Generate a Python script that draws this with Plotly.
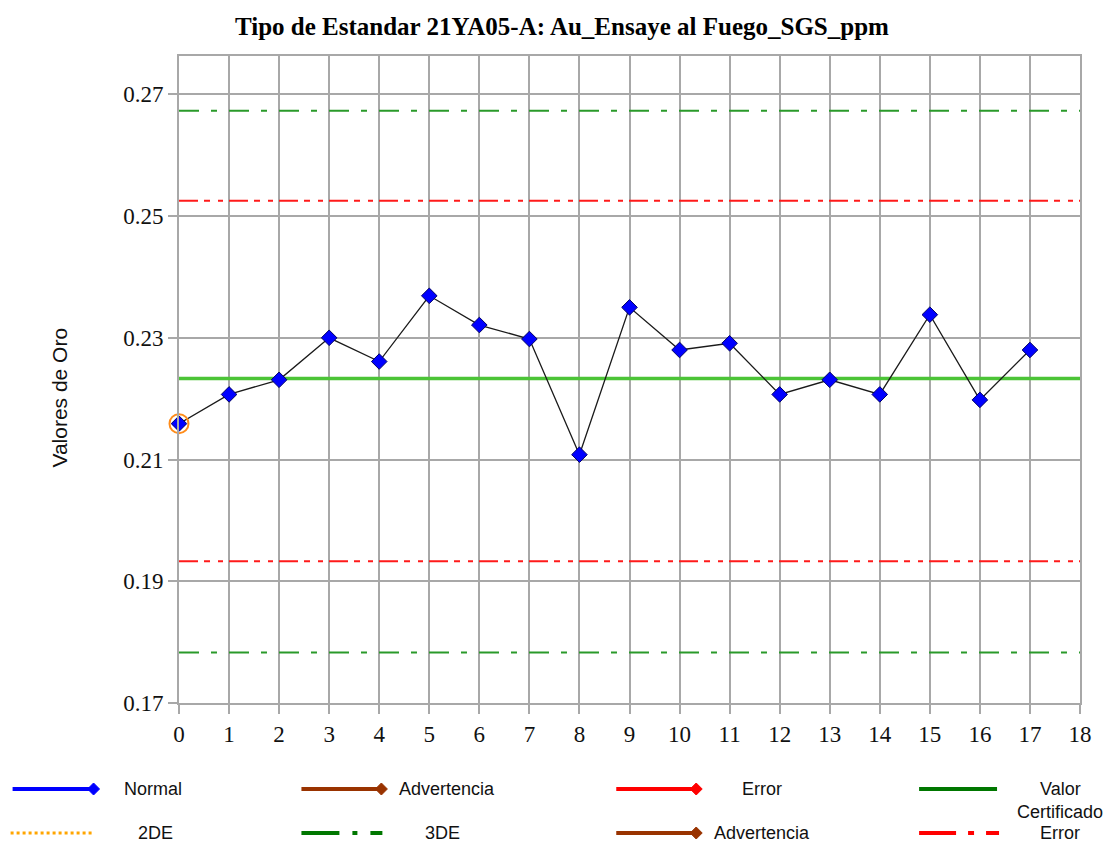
import plotly.graph_objects as go

# Sample sequence and assay results (Au, ppm)
muestras = list(range(18))
valores = [0.2159, 0.2207, 0.2231, 0.2300, 0.2261, 0.2369, 0.2321, 0.2298,
           0.2108, 0.2350, 0.2280, 0.2291, 0.2207, 0.2231, 0.2207, 0.2338,
           0.2198, 0.2280]
marcados = [0]  # flagged samples

# Control limits
valor_certificado = 0.2233
error_sup, error_inf = 0.2525, 0.1933
de3_sup, de3_inf = 0.2673, 0.1783

y_ticks = [0.17, 0.19, 0.21, 0.23, 0.25, 0.27]
x_ticks = list(range(19))

W, H = 1103, 844
L, R, T, B = 178.5, 1080, 56, 703
GRID = "#a8a8a8"


def px(x):
    return (x - L) / (R - L)


def py(y):
    return (B - y) / (B - T)


fig = go.Figure()

# Limit lines across the full axis width
def hline(yv, color, width, dash):
    fig.add_trace(go.Scatter(x=[0, 18], y=[yv, yv], mode="lines",
                             line=dict(color=color, width=width, dash=dash),
                             hoverinfo="skip", showlegend=False))

hline(de3_sup, "#2a9a2a", 2, "20px,12px,6px,12px")
hline(de3_inf, "#2a9a2a", 2, "20px,12px,6px,12px")
hline(error_sup, "#ff1a1a", 2, "19px,6px,6px,8px,5px,6px")
hline(error_inf, "#ff1a1a", 2, "19px,6px,6px,8px,5px,6px")
hline(valor_certificado, "#4cc437", 3.5, "solid")

# Assay series
fig.add_trace(go.Scatter(x=muestras, y=valores, mode="lines+markers",
                         line=dict(color="#1a1a1a", width=1.3),
                         marker=dict(symbol="diamond", size=12, color="#0000ff",
                                     line=dict(color="#000066", width=1)),
                         cliponaxis=False, showlegend=False))

# Flagged samples
fig.add_trace(go.Scatter(x=[muestras[i] for i in marcados],
                         y=[valores[i] for i in marcados], mode="markers",
                         marker=dict(symbol="circle-open", size=19, color="#ff8c1a",
                                     line=dict(width=2)),
                         cliponaxis=False, showlegend=False))

shapes = []
annotations = []


def leg_line(x0, x1, yy, color, width, dash="solid"):
    shapes.append(dict(type="line", xref="paper", yref="paper",
                       x0=px(x0), x1=px(x1), y0=py(yy), y1=py(yy),
                       line=dict(color=color, width=width, dash=dash)))


def leg_diamond(xc, yc, color, r=6):
    path = "M {} {} L {} {} L {} {} L {} {} Z".format(
        px(xc - r), py(yc), px(xc), py(yc - r), px(xc + r), py(yc), px(xc), py(yc + r))
    shapes.append(dict(type="path", xref="paper", yref="paper", path=path,
                       fillcolor=color, line=dict(color=color, width=1)))


def leg_text(xc, yc, text, anchor="center"):
    annotations.append(dict(xref="paper", yref="paper", x=px(xc), y=py(yc),
                            text=text, showarrow=False, xanchor=anchor,
                            yanchor="middle",
                            font=dict(family="Liberation Sans, Arial", size=18,
                                      color="#111111")))


# Row 1
leg_line(12, 92, 789, "#0000ff", 4)
leg_diamond(93, 789, "#0000ff")
leg_text(121, 789, "Normal", "left")
leg_line(301, 380, 789, "#993300", 4)
leg_diamond(381, 789, "#993300")
leg_text(397, 789, "Advertencia", "left")
leg_line(616, 695, 789, "#ff0000", 4)
leg_diamond(696, 789, "#ff0000")
leg_text(762, 789, "Error")
leg_line(919, 997, 789, "#007700", 4)
leg_text(1060, 789, "Valor")
leg_text(1060, 812, "Certificado")

# Row 2
leg_line(10, 94, 833, "#ffa500", 3, "dot")
leg_text(155, 833, "2DE")
leg_line(301, 339, 833, "#007700", 4)
leg_line(352, 357, 833, "#007700", 4)
leg_line(370, 382, 833, "#007700", 4)
leg_text(442, 833, "3DE")
leg_line(616, 695, 833, "#993300", 4)
leg_diamond(696, 833, "#993300")
leg_text(762, 833, "Advertencia")
leg_line(919, 956, 833, "#ff0000", 4)
leg_line(968, 974, 833, "#ff0000", 4)
leg_line(986, 999, 833, "#ff0000", 4)
leg_text(1060, 833, "Error")

# Title and axis title
annotations.append(dict(xref="paper", yref="paper", x=px(562), y=py(26),
                        text="<b>Tipo de Estandar 21YA05-A: Au_Ensaye al Fuego_SGS_ppm</b>",
                        showarrow=False, xanchor="center", yanchor="middle",
                        font=dict(family="Liberation Serif, Times New Roman", size=25,
                                  color="#000000")))
annotations.append(dict(xref="paper", yref="paper", x=px(58), y=py(398),
                        text="Valores de Oro", textangle=-90, showarrow=False,
                        xanchor="center", yanchor="middle",
                        font=dict(family="Liberation Sans, Arial", size=21,
                                  color="#111111")))

fig.update_layout(
    width=W, height=H,
    margin=dict(l=L, r=W - R, t=T, b=H - B, pad=0),
    paper_bgcolor="white", plot_bgcolor="white",
    shapes=shapes, annotations=annotations,
    xaxis=dict(range=[0, 18], tickvals=x_ticks, ticktext=[str(v) for v in x_ticks],
               showgrid=True, gridcolor=GRID, gridwidth=2,
               showline=True, linecolor=GRID, linewidth=2, mirror=True,
               ticks="outside", ticklen=9, tickwidth=2, tickcolor=GRID,
               zeroline=False,
               tickfont=dict(family="Liberation Serif, DejaVu Serif", size=23,
                             color="#111111")),
    yaxis=dict(range=[0.17, 0.2763], tickvals=y_ticks,
               ticktext=["{:.2f}".format(v) for v in y_ticks],
               showgrid=True, gridcolor=GRID, gridwidth=2,
               showline=True, linecolor=GRID, linewidth=2, mirror=True,
               ticks="outside", ticklen=9, tickwidth=2, tickcolor=GRID,
               zeroline=False,
               tickfont=dict(family="Liberation Serif, DejaVu Serif", size=23,
                             color="#111111")),
)

fig.write_html("out.html")
